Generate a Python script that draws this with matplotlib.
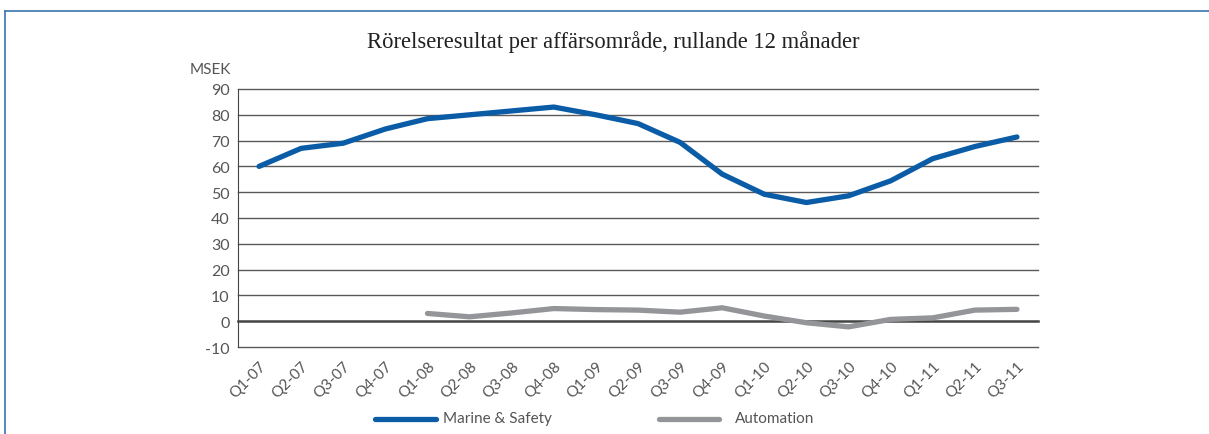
import matplotlib
matplotlib.use("Agg")
from matplotlib import pyplot as plt
from matplotlib.lines import Line2D
import numpy as np

plt.rcParams["axes.unicode_minus"] = False

quarters = ["Q1-07", "Q2-07", "Q3-07", "Q4-07", "Q1-08", "Q2-08", "Q3-08", "Q4-08",
            "Q1-09", "Q2-09", "Q3-09", "Q4-09", "Q1-10", "Q2-10", "Q3-10", "Q4-10",
            "Q1-11", "Q2-11", "Q3-11"]
marine_safety = [60, 67, 69, 74.5, 78.5, 80, 81.5, 83, 80, 76.6, 69.3, 57, 49.2, 46,
                 48.6, 54.4, 63, 67.7, 71.4]
automation = [None, None, None, None, 3, 1.7, 3.2, 4.9, 4.5, 4.3, 3.5, 5.2, 2, -0.6,
              -2.2, 0.7, 1.3, 4.3, 4.6]

blue = "#0a5ca6"
grey = "#939598"
txt = "#555555"

fig = plt.figure(figsize=(12.09, 4.35), dpi=100)
ax = fig.add_axes([238 / 1209, 1 - 348 / 435, 800 / 1209, 258 / 435])

x = np.arange(len(quarters))
auto = np.array([np.nan if v is None else v for v in automation], dtype=float)

for yv in range(-10, 100, 10):
    ax.axhline(yv, color="#444444" if yv == 0 else "#5a5a5a",
               lw=1.8 if yv == 0 else 1.0, zorder=1, clip_on=False)

ax.plot(x, marine_safety, color=blue, lw=3.8, solid_capstyle="round", zorder=3,
        label="Marine & Safety")
ax.plot(x, auto, color=grey, lw=3.8, solid_capstyle="round", zorder=3,
        label="Automation")

ax.set_xlim(-0.5, len(quarters) - 0.5)
ax.set_ylim(-10, 90)
ax.set_yticks(range(-10, 100, 10))
ax.set_xticks(x)
ax.set_xticklabels(quarters, rotation=45, ha="right", rotation_mode="anchor")
for s in ["top", "right", "bottom"]:
    ax.spines[s].set_visible(False)
ax.spines["left"].set_color("#444444")
ax.tick_params(axis="both", length=0, labelsize=11.5, colors=txt, pad=6)
ax.tick_params(axis="x", labelsize=11, pad=8)
for lab in ax.get_xticklabels() + ax.get_yticklabels():
    lab.set_family("Lato")

fig.text(210 / 1209, 1 - 70 / 435, "MSEK", ha="center", va="center",
         fontsize=11, color=txt, family="Lato")
fig.text(613 / 1209, 1 - 42 / 435, "Rörelseresultat per affärsområde, rullande 12 månader",
         ha="center", va="center", fontsize=16.3, family="Liberation Serif", color="#222222")

# legend
fig.add_artist(Line2D([375 / 1209, 436 / 1209], [1 - 420 / 435] * 2, color=blue, lw=3.8,
                      solid_capstyle="round"))
fig.text(443 / 1209, 1 - 419 / 435, "Marine & Safety", va="center", fontsize=11,
         color=txt, family="Lato")
fig.add_artist(Line2D([659 / 1209, 719 / 1209], [1 - 420 / 435] * 2, color=grey, lw=3.8,
                      solid_capstyle="round"))
fig.text(735 / 1209, 1 - 419 / 435, "Automation", va="center", fontsize=11,
         color=txt, family="Lato")

# frame
fig.add_artist(Line2D([5 / 1209, 1], [1 - 12 / 435] * 2, color="#3a74b0", lw=1.2))
fig.add_artist(Line2D([5 / 1209] * 2, [0, 1 - 12 / 435], color="#3a74b0", lw=1.2))

fig.savefig("out.png", dpi=100)
plt.close(fig)
